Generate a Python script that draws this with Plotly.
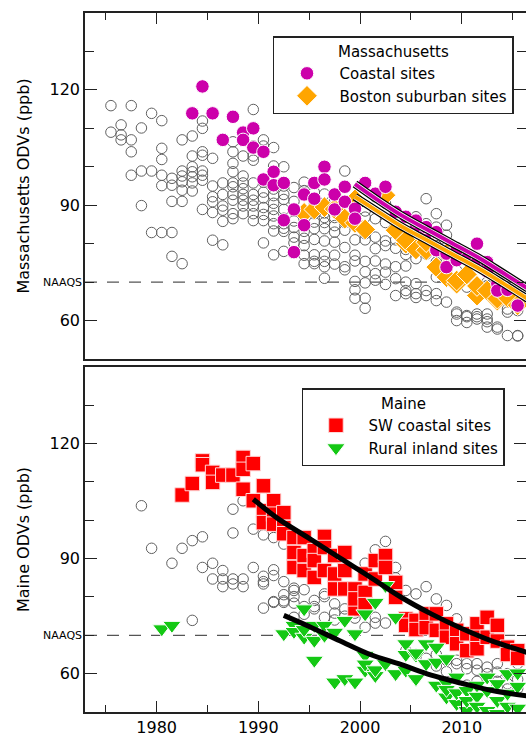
import plotly.graph_objects as go

# ---------------- Massachusetts (top panel) ----------------
ma_other_year = (
    [1975.5]*2 + [1976.5]*3 + [1977.5]*4 + [1978.5]*3 + [1979.5]*3 + [1980.5]*6 +
    [1981.5]*5 + [1982.5]*7 + [1983.5]*7 + [1984.5]*8 + [1985.5]*6 + [1986.5]*6 +
    [1987.5]*10 + [1988.5]*9 + [1989.5]*10 + [1990.5]*9 + [1991.5]*10 + [1992.5]*10 +
    [1993.5]*8 + [1994.5]*9 + [1995.5]*9 + [1996.5]*10 + [1997.5]*8 + [1998.5]*9 +
    [1999.5]*9 + [2000.5]*9 + [2001.5]*7 + [2002.5]*7 + [2003.5]*6 + [2004.5]*7 +
    [2005.5]*7 + [2006.5]*7 + [2007.5]*7 + [2008.5]*6 + [2009.5]*6 + [2010.5]*6 +
    [2011.5]*5 + [2012.5]*6 + [2013.5]*4 + [2014.5]*4 + [2015.5]*4
)
ma_other_odv = [
    115.9, 109.0,
    110.9, 108.3, 107.0,
    115.9, 107.0, 103.9, 97.8,
    110.1, 98.9, 89.9,
    113.9, 98.9, 82.9,
    112.0, 104.8, 101.9, 97.8, 95.1, 82.9,
    97.0, 95.2, 91.0, 82.9, 76.7,
    107.0, 98.9, 97.6, 96.1, 93.9, 91.0, 74.8,
    108.0, 102.8, 100.0, 98.7, 97.4, 95.8, 93.7,
    111.9, 110.0, 103.9, 103.0, 98.9, 97.8, 96.5, 88.9,
    102.2, 95.0, 92.2, 90.9, 88.1, 80.9,
    95.8, 92.8, 89.8, 88.7, 85.8, 79.7,
    106.5, 103.9, 100.9, 98.7, 95.8, 94.8, 92.8, 91.3, 87.8, 86.5,
    108.7, 102.8, 97.6, 95.8, 94.3, 92.8, 91.3, 89.8, 87.8,
    114.9, 105.4, 102.8, 101.7, 95.8, 92.8, 91.3, 89.8, 87.8, 86.0,
    107.0, 105.4, 96.0, 93.4, 91.9, 89.4, 87.6, 86.0, 80.2,
    105.0, 100.2, 94.2, 92.5, 90.5, 88.9, 87.2, 85.2, 83.3, 77.1,
    100.0, 95.0, 92.8, 91.5, 88.9, 86.6, 85.2, 84.0, 83.2, 78.0,
    94.6, 91.0, 88.5, 85.9, 84.2, 81.7, 80.2, 77.6,
    96.0, 93.8, 88.5, 84.8, 83.2, 81.4, 79.5, 77.0, 74.8,
    93.4, 90.0, 87.8, 85.6, 83.9, 81.1, 77.1, 75.4, 74.8,
    92.9, 88.0, 86.8, 85.5, 83.9, 80.7, 77.1, 75.4, 74.0, 71.0,
    91.5, 88.5, 86.8, 84.7, 83.0, 80.4, 77.0, 74.7,
    98.9, 91.0, 88.6, 87.2, 85.5, 83.5, 79.0, 74.0, 73.2,
    89.5, 87.6, 84.7, 81.0, 77.0, 75.5, 70.2, 68.0, 65.8,
    88.5, 86.9, 82.6, 81.0, 75.4, 72.7, 69.8, 65.8, 63.2,
    92.2, 86.5, 81.7, 78.7, 75.5, 72.2, 70.5,
    90.5, 85.5, 80.7, 79.5, 74.7, 72.6, 69.4,
    88.3, 81.0, 78.8, 74.0, 70.9, 66.5,
    82.0, 78.5, 77.2, 74.2, 70.0, 67.8, 67.0,
    87.0, 83.0, 79.0, 76.1, 69.6, 67.0, 66.0,
    91.7, 85.2, 83.0, 79.5, 77.3, 67.8, 66.5,
    87.8, 84.3, 79.5, 75.2, 71.3, 67.0, 65.2,
    84.8, 82.2, 79.1, 75.7, 73.0, 64.8,
    79.0, 76.5, 73.0, 62.2, 61.7, 60.0,
    77.3, 72.2, 68.7, 61.3, 61.0, 59.5,
    75.5, 68.7, 61.7, 61.0, 60.4,
    70.0, 69.1, 61.7, 60.4, 59.7, 58.3,
    67.4, 64.8, 58.3, 57.8,
    66.5, 63.0, 62.2, 56.1,
    64.8, 62.6, 56.1, 56.0,
]

ma_coastal_year = [
    1983.5, 1984.5, 1985.5, 1986.5, 1987.5, 1988.5, 1988.5, 1989.5, 1989.5,
    1990.5, 1990.5, 1991.5, 1991.5, 1992.5, 1992.5, 1993.5, 1993.5, 1994.5, 1994.5,
    1995.5, 1995.5, 1996.5, 1996.5, 1997.5, 1997.5, 1998.5, 1998.5, 1999.5, 1999.5,
    2000.5, 2001.5, 2002.5, 2003.5, 2004.5, 2005.5, 2005.5, 2006.5, 2006.5,
    2007.5, 2007.5, 2008.5, 2008.5, 2009.5, 2009.5, 2010.5, 2011.5, 2011.5,
    2012.5, 2012.5, 2013.5, 2013.5, 2014.5, 2015.5,
]
ma_coastal_odv = [
    113.9, 120.9, 113.9, 107.0, 113.0, 108.9, 107.0, 110.0, 105.0,
    103.9, 96.7, 98.7, 95.2, 95.8, 86.1, 88.9, 77.8, 92.8, 84.8,
    95.8, 91.7, 100.0, 96.7, 92.8, 88.9, 94.8, 90.9, 89.1, 86.5,
    95.8, 93.0, 94.8, 88.3, 87.0, 84.0, 86.0, 82.6, 84.3,
    78.3, 83.0, 77.4, 73.9, 75.7, 78.3, 76.1, 80.0, 75.2,
    75.2, 72.8, 69.6, 67.8, 68.0, 63.9,
]

ma_boston_year = [
    1994.5, 1995.5, 1996.5, 1997.5, 1998.5, 1999.5, 1999.5, 2000.5, 2002.5,
    2003.5, 2004.5, 2004.5, 2005.5, 2006.5, 2006.5, 2007.5, 2008.5, 2008.5,
    2009.5, 2009.5, 2010.5, 2011.5, 2011.5, 2012.5, 2013.5, 2013.5, 2014.5, 2015.5,
]
ma_boston_odv = [
    88.0, 88.9, 89.5, 89.0, 86.5, 85.4, 91.5, 83.7, 92.6,
    83.5, 80.0, 80.9, 78.5, 78.3, 80.4, 73.9, 77.4, 71.3,
    69.6, 70.4, 72.0, 66.5, 69.0, 67.8, 65.2, 65.7, 66.0, 64.0,
]

# fitted trend curves
ma_coastal_fit_year = [1999.5, 2001.5, 2004.0, 2006.5, 2009.0, 2011.5, 2014.0, 2016.5]
ma_coastal_fit_odv = [95.5, 91.8, 87.5, 83.8, 80.2, 76.6, 72.5, 68.3]
ma_boston_fit_year = [1999.5, 2001.5, 2004.0, 2006.5, 2009.0, 2011.5, 2014.0, 2016.5]
ma_boston_fit_odv = [92.2, 88.8, 84.6, 81.0, 77.4, 73.8, 69.8, 65.6]

# ---------------- Maine (bottom panel) ----------------
me_other_year = (
    [1978.5] + [1979.5] + [1981.5] + [1982.5] + [1983.5]*2 + [1984.5]*2 + [1985.5]*2 +
    [1986.5]*3 + [1987.5]*4 + [1988.5]*3 + [1989.5]*2 + [1990.5]*5 + [1991.5]*5 +
    [1992.5]*5 + [1993.5]*5 + [1994.5]*3 + [1995.5]*3 + [1996.5]*3 + [1997.5]*3 +
    [1998.5]*2 + [1999.5]*3 + [2000.5]*2 + [2001.5]*3 + [2002.5]*2 + [2003.5]*2 +
    [2004.5]*2 + [2005.5]*2 + [2006.5]*2 + [2007.5]*3 + [2008.5]*3 + [2009.5]*3 +
    [2010.5]*3 + [2011.5]*3 + [2012.5]*3 + [2013.5]*3 + [2014.5]*3 + [2015.5]*3
)
me_other_odv = [
    103.8, 92.7, 88.8, 92.7, 94.7, 73.9, 95.7, 87.7, 88.8, 84.7,
    86.9, 84.7, 82.7,
    102.9, 96.7, 84.7, 83.4,
    105.1, 84.7, 82.7,
    97.7, 87.7,
    96.2, 85.4, 84.0, 83.4, 77.1,
    95.5, 87.1, 85.6, 78.8, 78.6,
    93.8, 84.0, 80.6, 79.0, 78.6,
    82.3, 81.7, 80.1, 78.4, 74.7,
    81.9, 77.5, 75.5,
    79.1, 77.5, 76.9,
    80.8, 80.1, 74.7,
    78.2, 75.8, 74.0,
    76.9, 75.0,
    79.5, 75.8, 74.5,
    88.8, 72.1,
    92.3, 74.7, 73.2,
    94.5, 73.2,
    87.7, 85.0,
    81.7, 66.0,
    80.8, 65.0,
    82.7, 64.0,
    79.5, 65.0, 62.0,
    77.8, 63.5, 60.5,
    74.3, 63.5, 62.6,
    62.6, 61.3, 57.0,
    62.6, 60.9, 58.0,
    61.7, 60.0, 57.5,
    62.6, 60.4, 58.0,
    60.0, 57.4, 56.0,
    62.6, 58.5, 56.1,
]

me_coastal_year = [
    1982.5, 1983.5, 1984.5, 1984.5, 1985.5, 1985.5, 1986.5, 1987.5,
    1988.5, 1988.5, 1988.5, 1989.5, 1989.5, 1990.5, 1990.5, 1990.5,
    1991.5, 1991.5, 1991.5, 1992.5, 1992.5, 1992.5, 1993.5, 1993.5, 1993.5,
    1994.5, 1994.5, 1994.5, 1995.5, 1995.5, 1995.5, 1996.5, 1996.5, 1996.5,
    1997.5, 1997.5, 1997.5, 1998.5, 1998.5, 1998.5, 1999.5, 1999.5, 1999.5,
    2000.5, 2000.5, 2000.5, 2001.5, 2001.5, 2002.5, 2002.5, 2003.5, 2003.5,
    2004.5, 2004.5, 2005.5, 2005.5, 2006.5, 2006.5, 2007.5, 2007.5,
    2008.5, 2008.5, 2009.5, 2009.5, 2010.5, 2010.5, 2011.5, 2011.5, 2011.5,
    2012.5, 2012.5, 2013.5, 2013.5, 2014.5, 2014.5, 2015.5, 2015.5,
]
me_coastal_odv = [
    106.6, 109.6, 115.5, 114.5, 112.5, 109.9, 111.8, 111.8,
    116.4, 113.3, 108.1, 114.8, 105.1, 109.0, 102.5, 99.4,
    105.1, 101.6, 99.0, 102.0, 98.1, 96.5, 95.5, 91.6, 87.7,
    95.5, 90.8, 86.9, 92.1, 89.5, 85.1, 95.8, 92.9, 86.9,
    90.8, 86.0, 82.1, 91.6, 86.9, 82.1, 82.1, 76.9, 79.5,
    86.0, 81.2, 78.0, 89.5, 84.7, 90.8, 87.7, 83.8, 79.9,
    74.3, 72.6, 73.9, 71.5, 75.6, 72.0, 75.6, 71.3,
    73.0, 69.5, 71.3, 67.8, 70.4, 66.0, 73.0, 69.5, 66.5,
    74.7, 69.5, 72.6, 68.5, 66.9, 65.0, 66.0, 64.0,
]

me_inland_year = [
    1980.5, 1981.5, 1992.5, 1993.5, 1993.5, 1994.5, 1994.5, 1994.5,
    1995.5, 1995.5, 1995.5, 1996.5, 1996.5, 1997.5, 1997.5, 1998.5, 1998.5,
    1999.5, 1999.5, 2000.5, 2000.5, 2000.5, 2000.5, 2001.5, 2001.5, 2001.5,
    2002.5, 2002.5, 2003.5, 2003.5, 2004.5, 2004.5, 2004.5, 2005.5, 2005.5, 2005.5,
    2006.5, 2006.5, 2007.5, 2007.5, 2007.5, 2008.5, 2008.5, 2008.5, 2008.5,
    2009.5, 2009.5, 2009.5, 2010.5, 2010.5, 2010.5, 2011.5, 2011.5, 2011.5,
    2012.5, 2012.5, 2012.5, 2013.5, 2013.5, 2013.5, 2014.5, 2014.5, 2014.5,
    2015.5, 2015.5, 2015.5,
]
me_inland_odv = [
    71.7, 72.6, 70.4, 72.6, 71.0, 76.9, 69.5, 71.5,
    72.6, 68.7, 63.5, 72.6, 70.0, 70.8, 57.8, 73.9, 58.7,
    70.4, 57.8, 75.6, 64.8, 60.9, 62.5, 78.6, 59.5, 61.0,
    83.0, 62.6, 74.7, 60.0, 67.8, 60.9, 65.0, 64.8, 58.7, 65.4,
    67.8, 62.6, 66.9, 57.0, 63.0, 63.9, 53.9, 57.6, 55.9,
    59.1, 52.2, 55.0, 55.6, 50.4, 53.0, 57.0, 54.1, 51.5,
    59.1, 55.6, 50.4, 57.4, 49.6, 53.0, 60.0, 54.9, 51.5,
    60.2, 56.7, 51.0,
]

me_coastal_fit_year = [1989.5, 1992.0, 1995.0, 1998.0, 2001.0, 2004.0, 2007.0, 2010.0, 2013.0, 2016.5]
me_coastal_fit_odv = [105.5, 100.3, 95.3, 90.2, 85.2, 80.0, 75.6, 71.8, 68.5, 65.5]
me_inland_fit_year = [1992.5, 1995.0, 1998.0, 2001.0, 2004.0, 2007.0, 2010.0, 2013.0, 2016.5]
me_inland_fit_odv = [75.2, 72.3, 68.6, 65.0, 62.4, 59.6, 57.5, 55.6, 54.2]

x_tick_vals = [1980, 1990, 2000, 2010]
x_tick_text = ["1980", "1990", "2000", "2010"]
y_tick_vals = [60, 90, 120]
y_tick_text = ["60", "90", "120"]
naaqs = 70

FONT = "DejaVu Sans, Verdana, sans-serif"
GRAY = "#606060"
MAGENTA = "#CC00AA"
ORANGE = "#FFA500"
RED = "#FF0000"
GREEN = "#14C814"

fig = go.Figure()

# --- top panel ---
fig.add_trace(go.Scatter(x=ma_other_year, y=ma_other_odv, mode="markers", xaxis="x", yaxis="y",
                         marker=dict(symbol="circle-open", size=10.5, color=GRAY, line=dict(width=1)),
                         showlegend=False, hoverinfo="skip"))
fig.add_trace(go.Scatter(x=ma_boston_year, y=ma_boston_odv, mode="markers", xaxis="x", yaxis="y",
                         name="Boston suburban sites", legend="legend", legendrank=2,
                         marker=dict(symbol="diamond", size=16, color=ORANGE, line=dict(width=1, color="white"))))
fig.add_trace(go.Scatter(x=ma_coastal_year, y=ma_coastal_odv, mode="markers", xaxis="x", yaxis="y",
                         name="Coastal sites", legend="legend", legendrank=1,
                         marker=dict(symbol="circle", size=13.5, color=MAGENTA, line=dict(width=1, color="white"))))
for fx, fy, col in [(ma_coastal_fit_year, ma_coastal_fit_odv, MAGENTA),
                    (ma_boston_fit_year, ma_boston_fit_odv, ORANGE)]:
    fig.add_trace(go.Scatter(x=fx, y=fy, mode="lines", xaxis="x", yaxis="y", line=dict(color="black", width=8, shape="spline"),
                             showlegend=False, hoverinfo="skip"))
    fig.add_trace(go.Scatter(x=fx, y=fy, mode="lines", xaxis="x", yaxis="y", line=dict(color="white", width=5.5, shape="spline"),
                             showlegend=False, hoverinfo="skip"))
    fig.add_trace(go.Scatter(x=fx, y=fy, mode="lines", xaxis="x", yaxis="y", line=dict(color=col, width=4, shape="spline"),
                             showlegend=False, hoverinfo="skip"))

# --- bottom panel ---
fig.add_trace(go.Scatter(x=me_other_year, y=me_other_odv, mode="markers", xaxis="x2", yaxis="y2",
                         marker=dict(symbol="circle-open", size=10.5, color=GRAY, line=dict(width=1)),
                         showlegend=False, hoverinfo="skip"))
fig.add_trace(go.Scatter(x=me_coastal_year, y=me_coastal_odv, mode="markers", xaxis="x2", yaxis="y2",
                         name="SW coastal sites", legend="legend2", legendrank=1,
                         marker=dict(symbol="square", size=14.5, color=RED, line=dict(width=1, color="#FFD8D8"))))
fig.add_trace(go.Scatter(x=me_inland_year, y=me_inland_odv, mode="markers", xaxis="x2", yaxis="y2",
                         name="Rural inland sites", legend="legend2", legendrank=2,
                         marker=dict(symbol="triangle-down", size=16, color=GREEN, line=dict(width=1, color="white"))))
for fx, fy in [(me_coastal_fit_year, me_coastal_fit_odv), (me_inland_fit_year, me_inland_fit_odv)]:
    fig.add_trace(go.Scatter(x=fx, y=fy, mode="lines", xaxis="x2", yaxis="y2",
                             line=dict(color="black", width=5, shape="spline"), showlegend=False, hoverinfo="skip"))

# empty traces so the right-hand tick axes exist
fig.add_trace(go.Scatter(x=[], y=[], xaxis="x", yaxis="y3", showlegend=False, hoverinfo="skip"))
fig.add_trace(go.Scatter(x=[], y=[], xaxis="x2", yaxis="y4", showlegend=False, hoverinfo="skip"))

XR = [1972.95, 2016.32]
YR = [50, 140]
AX = "#222222"

xcommon = dict(range=XR, showgrid=False, zeroline=False, showline=True, linecolor=AX, linewidth=1.5,
               mirror=True, ticks="inside", ticklen=11, tickwidth=1.2, tickcolor=AX,
               tickvals=x_tick_vals, ticktext=x_tick_text,
               minor=dict(dtick=5, tick0=1975, ticks="inside", ticklen=7, tickwidth=1.2, tickcolor=AX))
ycommon = dict(range=YR, showgrid=False, zeroline=False, showline=True, linecolor=AX, linewidth=1.5,
               ticks="inside", ticklen=12, tickwidth=1.2, tickcolor=AX,
               tickvals=y_tick_vals, ticktext=y_tick_text,
               minor=dict(dtick=10, tick0=0, ticks="inside", ticklen=9, tickwidth=1.2, tickcolor=AX),
               tickfont=dict(size=16, color="black"))
yright = dict(range=YR, showgrid=False, zeroline=False, showline=False, side="right",
              ticks="inside", ticklen=12, tickwidth=1.2, tickcolor=AX, showticklabels=False,
              tickvals=y_tick_vals,
              minor=dict(dtick=10, tick0=0, ticks="inside", ticklen=9, tickwidth=1.2, tickcolor=AX))

top_dom = [0.505, 1.0]
bot_dom = [0.0, 0.4936]

fig.update_layout(
    width=526, height=740,
    margin=dict(l=85, r=0, t=13, b=28),
    paper_bgcolor="white", plot_bgcolor="white",
    font=dict(family=FONT, size=16, color="black"),
    xaxis=dict(**xcommon, domain=[0, 1], anchor="y", side="top", showticklabels=False),
    xaxis2=dict(**xcommon, domain=[0, 1], anchor="y2", side="bottom", showticklabels=True, matches="x",
                tickfont=dict(size=16, color="black")),
    yaxis=dict(**ycommon, domain=top_dom, anchor="x",
               title=dict(text="Massachusetts ODVs (ppb)", font=dict(size=16), standoff=16)),
    yaxis2=dict(**ycommon, domain=bot_dom, anchor="x2",
                title=dict(text="Maine ODVs (ppb)", font=dict(size=16), standoff=16)),
    yaxis3=dict(**yright, overlaying="y", anchor="x"),
    yaxis4=dict(**yright, overlaying="y2", anchor="x2"),
    legend=dict(x=0.4263, y=0.967, xanchor="left", yanchor="top", bgcolor="white",
                bordercolor=AX, borderwidth=1.5, font=dict(size=15), itemwidth=55,
                title=dict(text="Massachusetts", side="top center", font=dict(size=15)),
                tracegroupgap=0),
    legend2=dict(x=0.492, y=0.4635, xanchor="left", yanchor="top", bgcolor="white",
                 bordercolor=AX, borderwidth=1.5, font=dict(size=15), itemwidth=55,
                 title=dict(text="Maine", side="top center", font=dict(size=15)),
                 tracegroupgap=0),
    shapes=[
        dict(type="line", xref="x domain", yref="y", x0=0, x1=1, y0=naaqs, y1=naaqs,
             line=dict(color="#555555", width=1.2, dash="12px,10px"), layer="below"),
        dict(type="line", xref="x2 domain", yref="y2", x0=0, x1=1, y0=naaqs, y1=naaqs,
             line=dict(color="#555555", width=1.2, dash="12px,10px"), layer="below"),
    ],
    annotations=[
        dict(text="NAAQS", xref="paper", yref="y", x=0, y=naaqs, xanchor="right", yanchor="middle",
             xshift=-1, showarrow=False, font=dict(size=11, color="black")),
        dict(text="NAAQS", xref="paper", yref="y2", x=0, y=naaqs, xanchor="right", yanchor="middle",
             xshift=-1, showarrow=False, font=dict(size=11, color="black")),
    ],
)

fig.write_html("out.html")
